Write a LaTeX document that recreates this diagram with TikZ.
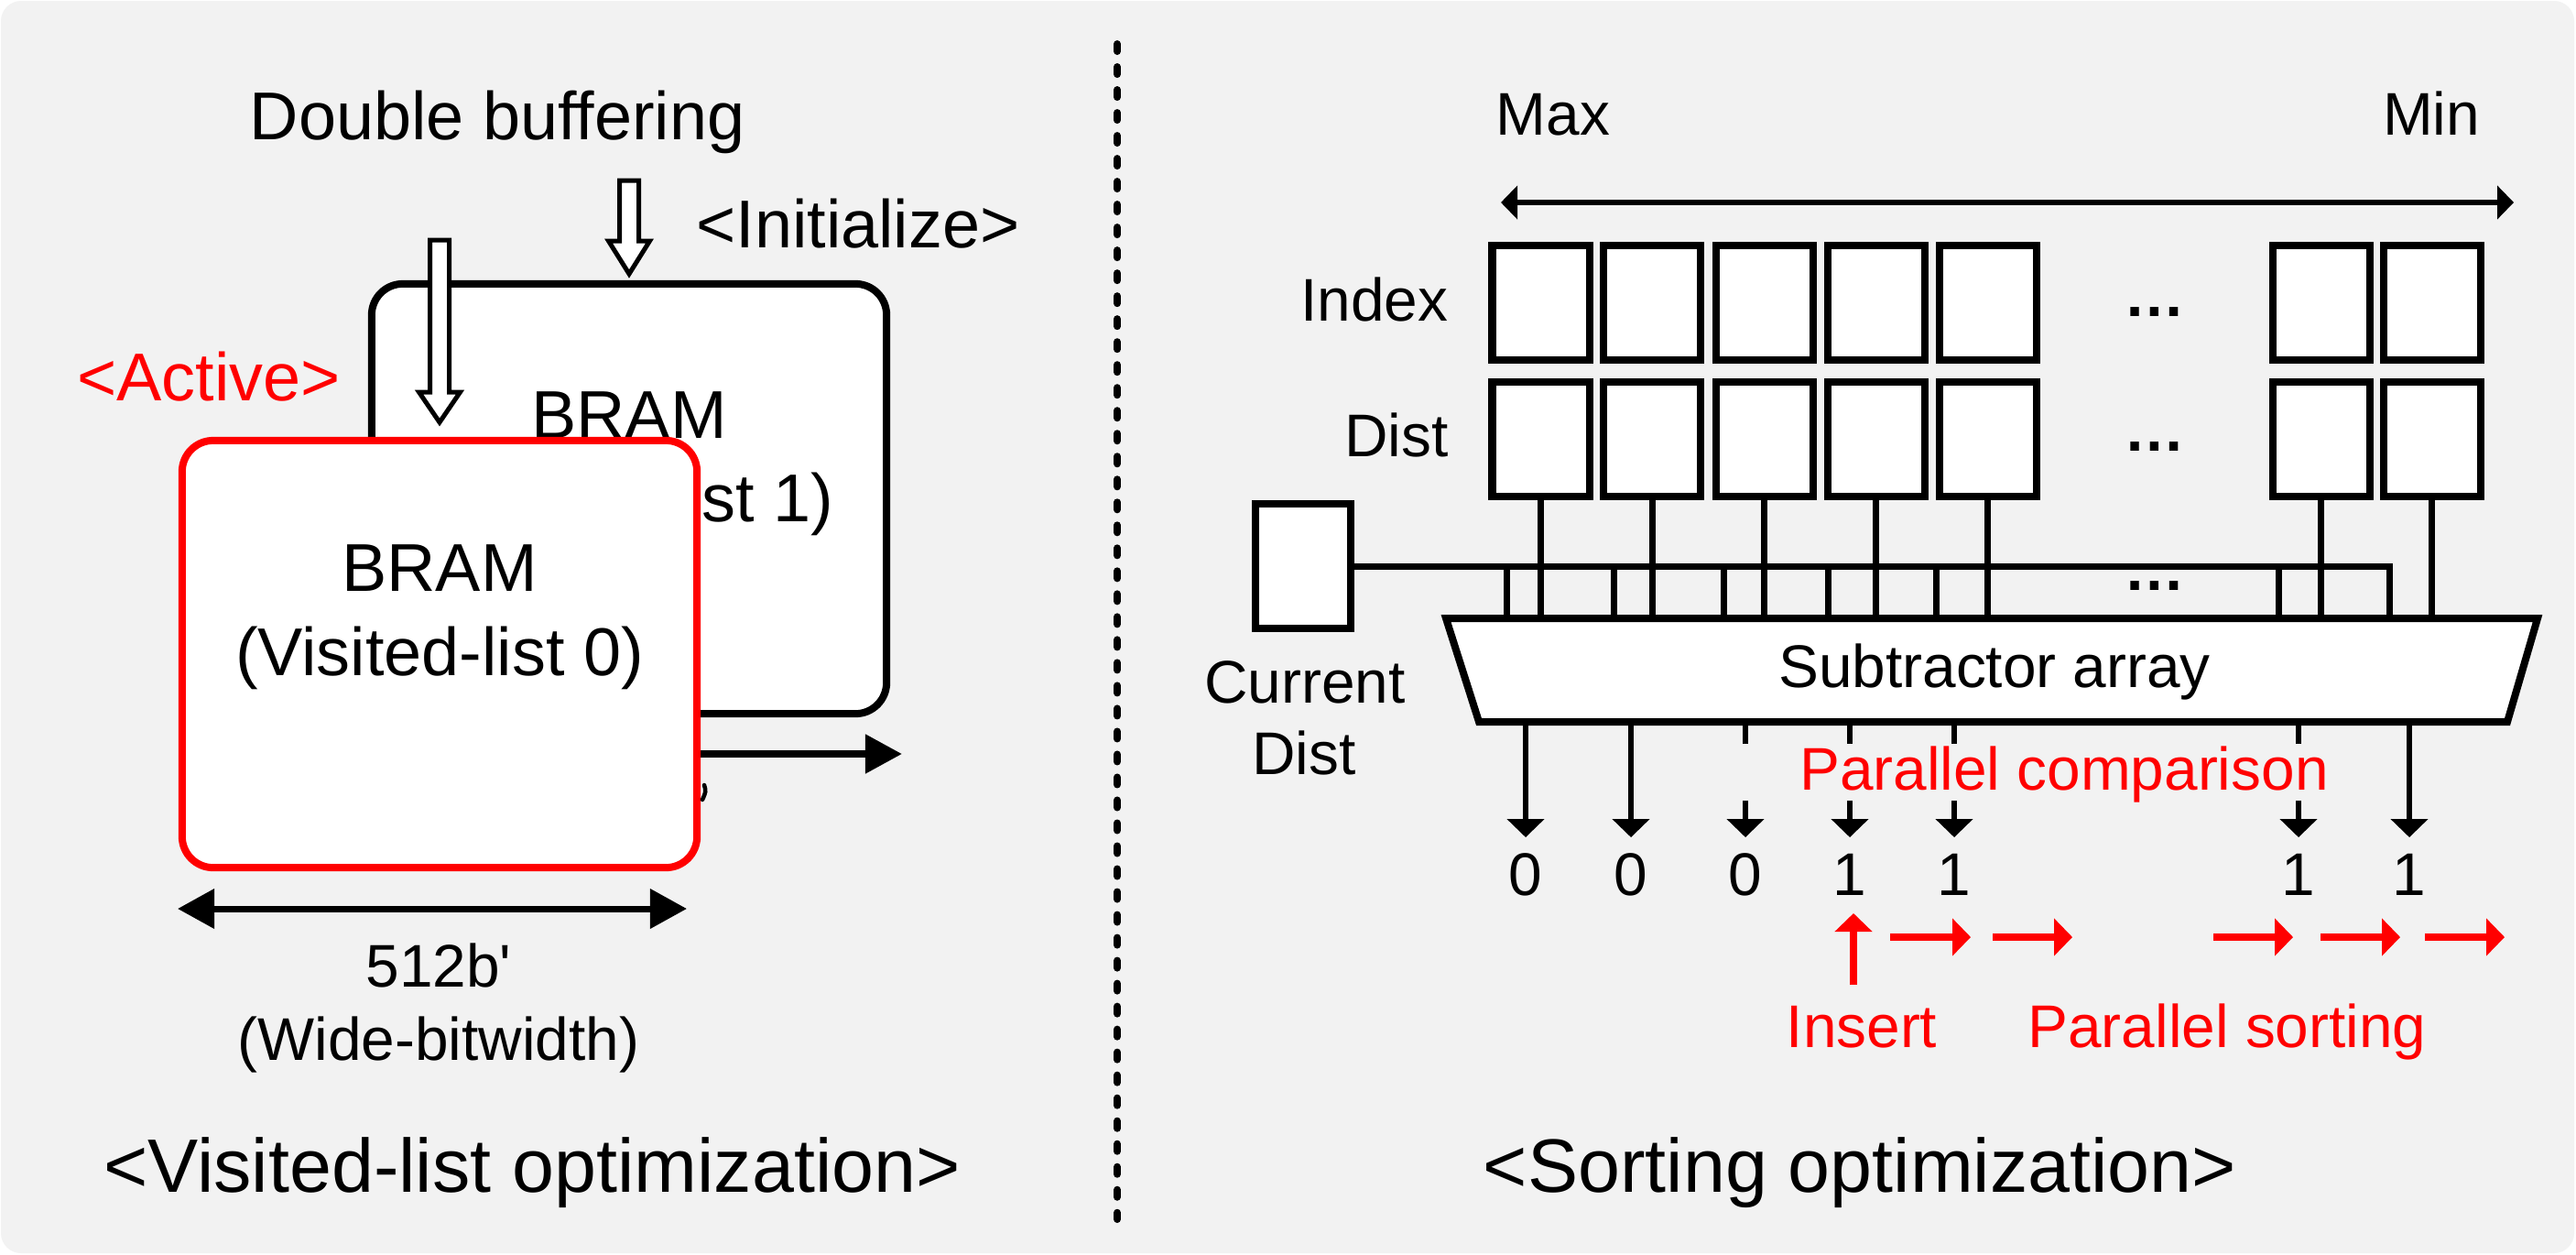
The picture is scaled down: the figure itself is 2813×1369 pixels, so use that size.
\documentclass[tikz,border=0pt]{standalone}
\usepackage{fontspec}
\setmainfont{Liberation Sans}
\usetikzlibrary{arrows.meta}
\definecolor{bg}{HTML}{F2F2F2}
\definecolor{myred}{HTML}{FF0000}
\begin{document}
\begin{tikzpicture}[x=0.01cm,y=-0.01cm,
  big/.style={font=\fontsize{21pt}{25pt}\selectfont, inner sep=0pt, anchor=base},
  small/.style={font=\fontsize{18.7pt}{22pt}\selectfont, inner sep=0pt, anchor=base},
  ttl/.style={font=\fontsize{23.5pt}{28pt}\selectfont, inner sep=0pt, anchor=base},
  dotstxt/.style={font=\fontsize{19pt}{22pt}\selectfont\bfseries, inner sep=0pt, anchor=base},
  redtxt/.style={small, text=myred},
  cell/.style={draw, line width=0.08cm, fill=white, minimum width=1.06cm, minimum height=1.25cm, inner sep=0pt, outer sep=0pt},
  brambox/.style={draw, line width=0.08cm, fill=white, rounded corners=0.34cm, minimum width=5.62cm, inner sep=0pt, outer sep=0pt},
  wire/.style={line width=0.07cm},
  hollow/.style={draw, line width=0.05cm, fill=white, line join=miter},
  bigtip/.style={-{Triangle[length=0.4cm,width=0.41cm]}},
  dbltip/.style={{Triangle[length=0.4cm,width=0.42cm]}-{Triangle[length=0.4cm,width=0.42cm]}},
  thintip/.style={{Triangle[length=0.18cm,width=0.36cm]}-{Triangle[length=0.18cm,width=0.36cm]}},
  downtip/.style={line width=0.06cm, -{Triangle[length=0.2cm,width=0.4cm]}},
  redtip/.style={draw=myred, line width=0.08cm, -{Triangle[length=0.2cm,width=0.4cm]}, myred}
]
% background
\useasboundingbox (0,0) rectangle (2813,1369);
\fill[white] (0,0) rectangle (2813,1369);
\fill[bg, rounded corners=0.22cm] (1,1) rectangle (2811,1368);

% divider
\coordinate (divtop) at (1220,48);
\coordinate (divbot) at (1220,1331);
\draw[line width=0.08cm, line cap=round, dash pattern=on 0.08cm off 0.17cm] (divtop) -- (divbot);

%%%%%%%%%%%%%%%% LEFT PANEL %%%%%%%%%%%%%%%%
\node[big] (dbuf) at (543,152) {Double buffering};
\node[big] (init) at (937,270) {<Initialize>};
\node[big, text=myred] (act) at (228,437) {<Active>};

% back BRAM
\node[brambox, minimum height=4.69cm] (bram1) at (687,544.5) {};
\node[big] (b1a) at (687,478) {BRAM};
\node[big] (b1b) at (687,569) {(Visited-list 1)};

% hollow arrow to back BRAM
\draw[hollow] (676.5,197) -- (697.5,197) -- (697.5,263) -- (709.5,263) -- (687,299)
  -- (664.5,263) -- (676.5,263) -- cycle;

% output arrow (behind front BRAM)
\coordinate (outS) at (700,823);
\coordinate (outE) at (985,823);
\draw[line width=0.08cm, bigtip] (outS) -- (outE);

% front BRAM
\node[brambox, draw=myred, minimum height=4.66cm] (bram0) at (480,714) {};
\node[big] (b0a) at (480,645) {BRAM};
\node[big] (b0b) at (480,737) {(Visited-list 0)};
\draw[line width=0.045cm, line cap=round] (769,857) .. controls (771,864) .. (767,873);

% hollow arrow to front BRAM
\draw[hollow] (469.5,262) -- (490.5,262) -- (490.5,428) -- (502.5,428) -- (480,461)
  -- (457.5,428) -- (469.5,428) -- cycle;

% width arrow
\coordinate (wL) at (194,992);
\coordinate (wR) at (750,992);
\draw[line width=0.07cm, dbltip] (wL) -- (wR);
\node[small] (w1) at (479,1077) {512b\textquotesingle};
\node[small] (w2) at (479,1157) {(Wide-bitwidth)};

\node[ttl] (ttlL) at (581,1301) {<Visited-list optimization>};

%%%%%%%%%%%%%%%% RIGHT PANEL %%%%%%%%%%%%%%%%
\node[small] (max) at (1696,147) {Max};
\node[small] (min) at (2655,147) {Min};
\coordinate (aL) at (1639,221);
\coordinate (aR) at (2745,221);
\draw[line width=0.06cm, thintip] (aL) -- (aR);

\node[small, anchor=base east] (lidx) at (1582,350) {Index};
\node[small, anchor=base east] (ldist) at (1582,498) {Dist};

% cells
\foreach \n/\x in {1/1682.5,2/1804,3/1926.5,4/2048.5,5/2170.5,6/2534.5,7/2655.5}{
  \node[cell] (i\n) at (\x,330.5) {};
  \node[cell] (d\n) at (\x,479.5) {};
}
\node[dotstxt] (dots1) at (2353,345) {…};
\node[dotstxt] (dots2) at (2353,492) {…};

% current dist
\node[draw, line width=0.08cm, fill=white, minimum width=1.04cm, minimum height=1.36cm, inner sep=0pt] (cur) at (1423,618) {};
\node[small] (cur1) at (1425,767) {Current};
\node[small] (cur2) at (1424,845) {Dist};

% wires
\coordinate (subtop) at (0,675);
\coordinate (busend) at (2609,618);
\draw[wire] (cur.east) -- (busend) -- (busend |- subtop);
\foreach \t in {1645,1762,1882,1996,2114,2488}{
  \coordinate (tap\t) at (\t,618);
  \draw[wire] (tap\t) -- (tap\t |- subtop);
}
\foreach \n in {1,...,7}{
  \draw[wire] (d\n.south) -- (d\n.south |- subtop);
}
\node[dotstxt] (dots3) at (2353,644) {…};

% subtractor
\draw[line width=0.08cm, fill=white, line join=miter] (1579,675) -- (2771,675) -- (2738,788) -- (1615,788) -- cycle;
\node[small] (sub) at (2178,750) {Subtractor array};
\coordinate (subbot) at (0,788);

% outputs
\foreach \n/\x/\v in {1/1666/0,2/1781/0,3/1906/0,4/2020/1,5/2134/1,6/2510/1,7/2631/1}{
  \node[small] (o\n) at (\x,977) {\v};
  \coordinate (ot\n) at (\x,914);
}
\foreach \n in {1,2,7}{
  \draw[downtip] (ot\n |- subbot) -- (ot\n);
}
\foreach \n in {3,4,5,6}{
  \draw[line width=0.06cm] (ot\n |- subbot) -- ([yshift=-0.24cm]ot\n |- subbot);
  \draw[downtip] ([yshift=0.4cm]ot\n) -- (ot\n);
}
\node[redtxt] (pcmp) at (2254,862) {Parallel comparison};

% red arrows
\coordinate (upS) at (2024,1075);
\coordinate (upE) at (2024,997);
\draw[redtip] (upS) -- (upE);
\foreach \a/\b in {2064/2152,2176/2263,2417/2504,2534/2621,2648/2735}{
  \coordinate (rs\a) at (\a,1023);
  \coordinate (re\a) at (\b,1023);
  \draw[redtip] (rs\a) -- (re\a);
}
\node[redtxt] (ins) at (2033,1143) {Insert};
\node[redtxt] (psort) at (2432,1143) {Parallel sorting};

\node[ttl] (ttlR) at (2031,1301) {<Sorting optimization>};
\end{tikzpicture}
\end{document}
